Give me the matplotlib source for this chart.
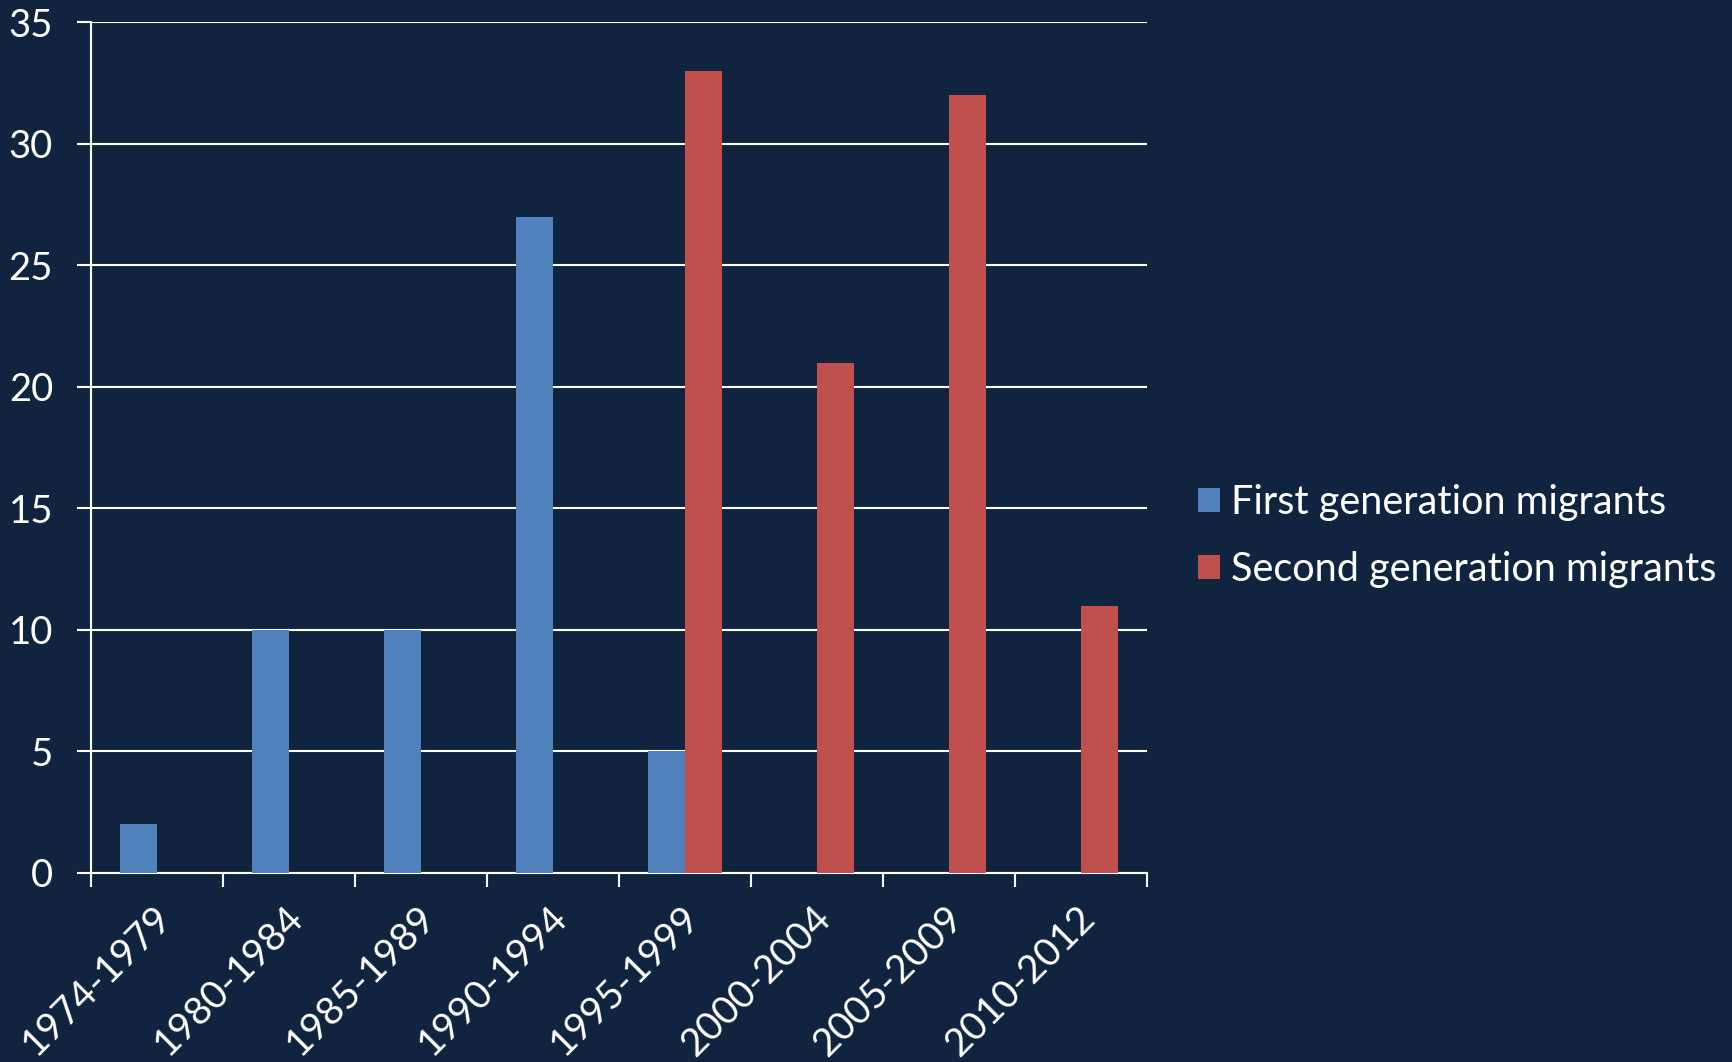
import matplotlib
matplotlib.use("Agg")
import matplotlib.pyplot as plt
import numpy as np

categories = ["1974-1979", "1980-1984", "1985-1989", "1990-1994",
              "1995-1999", "2000-2004", "2005-2009", "2010-2012"]
first_gen = [2, 10, 10, 27, 5, 0, 0, 0]
second_gen = [0, 0, 0, 0, 33, 21, 32, 11]
y_ticks = [0, 5, 10, 15, 20, 25, 30, 35]

BG = "#11243F"
BLUE = "#4F81BD"
RED = "#C0504D"

plt.rcParams['font.family'] = ['Lato', 'DejaVu Sans']

fig = plt.figure(figsize=(17.32, 10.62), dpi=100, facecolor=BG)
ax = fig.add_axes([0.0523, 0.178, 0.6097, 0.801])
ax.set_facecolor(BG)

x = np.arange(len(categories))
w = 0.28
fb = [v if v > 0 else np.nan for v in first_gen]
sb = [v if v > 0 else np.nan for v in second_gen]
ax.bar(x - w / 2, fb, width=w, color=BLUE, label="First generation migrants", zorder=3)
ax.bar(x + w / 2, sb, width=w, color=RED, label="Second generation migrants", zorder=3)

ax.set_xlim(-0.5, len(categories) - 0.5)
ax.set_ylim(0, 35)
ax.set_yticks(y_ticks)
ax.yaxis.grid(True, color="white", linewidth=1.5, zorder=1)
ax.set_axisbelow(True)

ax.set_xticks(np.arange(len(categories) + 1) - 0.5)
ax.set_xticklabels([])
ax.set_xticks(x, minor=True)
ax.set_xticklabels(categories, minor=True, rotation=45, ha="right",
                   rotation_mode="anchor", color="white", fontsize=28)
ax.tick_params(axis="x", which="minor", length=0, pad=19)
ax.tick_params(axis="x", which="major", length=10, width=1.5, color="white", direction="out")
ax.tick_params(axis="y", length=10, width=1.5, color="white", labelcolor="white",
               labelsize=27.5, pad=17)

for s in ["top", "right"]:
    ax.spines[s].set_visible(False)
for s in ["left", "bottom"]:
    ax.spines[s].set_color("white")
    ax.spines[s].set_linewidth(1.5)

import matplotlib.transforms as mtransforms
offset = mtransforms.ScaledTranslation(-0.04, 0, fig.dpi_scale_trans)
for lbl in ax.get_xticklabels(minor=True):
    lbl.set_transform(lbl.get_transform() + offset)

leg = fig.legend(loc="center left", bbox_to_anchor=(0.671, 0.495), frameon=False,
                 fontsize=28.5, labelcolor="white", handlelength=0.55, handleheight=0.55,
                 handletextpad=0.3, labelspacing=0.76)

fig.savefig("out.png", dpi=100, facecolor=BG)
